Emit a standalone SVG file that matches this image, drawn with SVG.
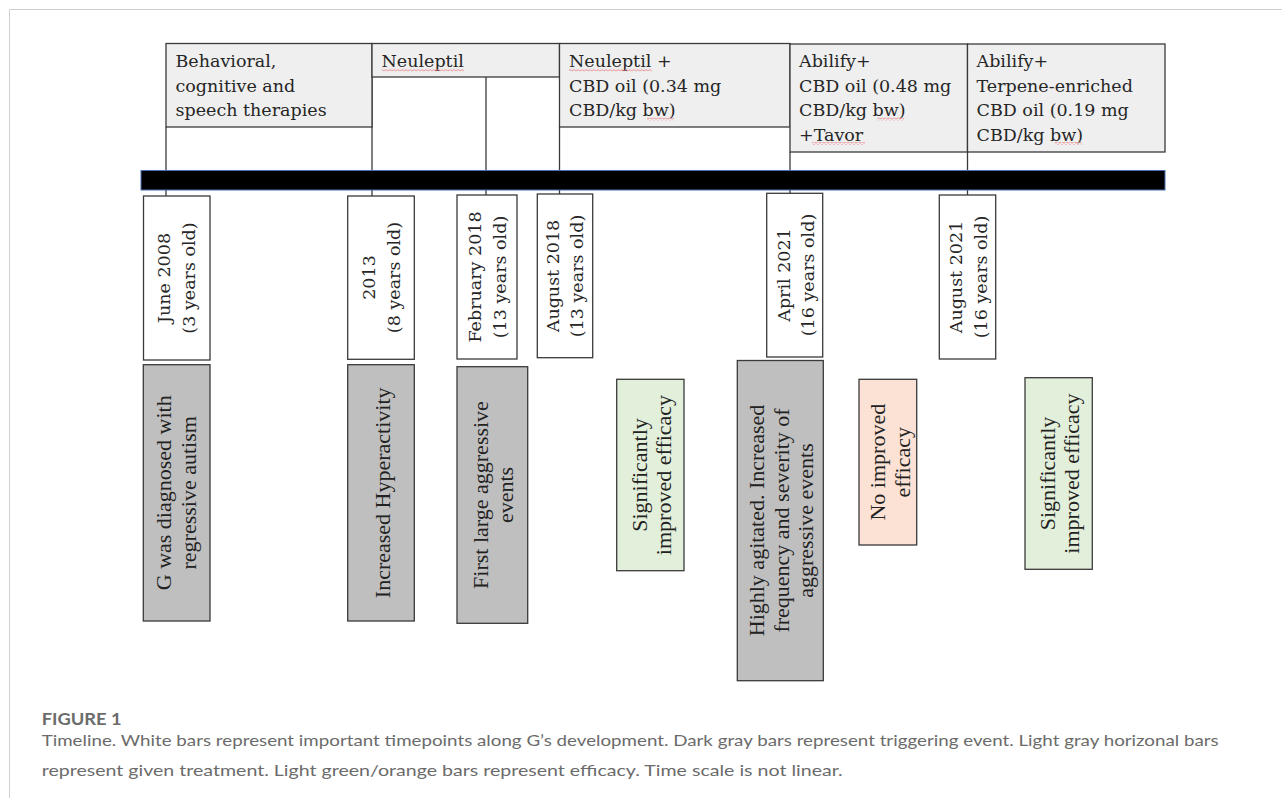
<svg xmlns="http://www.w3.org/2000/svg" width="1282" height="798" viewBox="0 0 1282 798">
<defs>
<style>
.hdr{fill:#efefef;stroke:#3a3a3a;stroke-width:1.3}
.date{fill:#ffffff;stroke:#3a3a3a;stroke-width:1.3}
.trig{fill:#bfbfbf;stroke:#3a3a3a;stroke-width:1.3}
.good{fill:#e2efda;stroke:#3a3a3a;stroke-width:1.3}
.bad{fill:#fbe2d5;stroke:#3a3a3a;stroke-width:1.3}
.ht{font-family:"DejaVu Serif","Liberation Serif",serif;font-size:17.5px;fill:#262626}
.dt{font-family:"DejaVu Serif","Liberation Serif",serif;font-size:17.5px;fill:#262626;text-anchor:middle}
.et{font-family:"Liberation Serif","DejaVu Serif",serif;font-size:22px;fill:#222;text-anchor:middle}
.conn line{stroke:#3a3a3a;stroke-width:1.3}
.cap{font-family:Lato,"Open Sans",sans-serif;fill:#6b6b6b}
</style>
<pattern id="wave" width="4" height="3" patternUnits="userSpaceOnUse">
<path d="M0,2.2 L2,0.6 L4,2.2" fill="none" stroke="#e8868a" stroke-width="0.9"/>
</pattern>
</defs>
<rect width="1282" height="798" fill="#ffffff"/>
<path d="M9.5,798 V9.5 H1282" fill="none" stroke="#cfcfcf" stroke-width="1"/>

<g id="connectors" class="conn">
<line x1="166" y1="127" x2="166" y2="196"/>
<line x1="372" y1="77" x2="372" y2="196"/>
<line x1="486" y1="77" x2="486" y2="195"/>
<line x1="559.5" y1="127" x2="559.5" y2="194"/>
<line x1="790" y1="152" x2="790" y2="193"/>
<line x1="967.5" y1="152" x2="967.5" y2="195"/>
</g>

<g id="timeline">
<rect x="141" y="170.5" width="1024" height="19.5" fill="#000000" stroke="#4a6fb5" stroke-width="1"/>
</g>

<g id="tx-behavioral">
<rect class="hdr" x="166" y="43.5" width="206" height="83.5"/>
<text class="ht" x="175.5" y="67">Behavioral,</text>
<text class="ht" x="175.5" y="91.5">cognitive and</text>
<text class="ht" x="175.5" y="116">speech therapies</text>
</g>
<g id="tx-neuleptil">
<rect class="hdr" x="372" y="43.5" width="187.5" height="33.5"/>
<text class="ht" x="381.5" y="67">Neuleptil</text>
<rect x="382" y="68.5" width="82" height="3" fill="url(#wave)"/>
</g>
<g id="tx-neuleptil-cbd">
<rect class="hdr" x="559.5" y="43.5" width="230.5" height="83.5"/>
<text class="ht" x="569" y="67">Neuleptil +</text>
<text class="ht" x="569" y="91.5">CBD oil (0.34 mg</text>
<text class="ht" x="569" y="116">CBD/kg bw)</text>
<rect x="569" y="68.5" width="83" height="3" fill="url(#wave)"/>
<rect x="647" y="117.5" width="27" height="3" fill="url(#wave)"/>
</g>
<g id="tx-abilify-cbd">
<rect class="hdr" x="790" y="44" width="177.5" height="108"/>
<text class="ht" x="799" y="67">Abilify+</text>
<text class="ht" x="799" y="91.5">CBD oil (0.48 mg</text>
<text class="ht" x="799" y="116">CBD/kg bw)</text>
<text class="ht" x="799" y="140.5">+Tavor</text>
<rect x="877" y="117.5" width="27" height="3" fill="url(#wave)"/>
<rect x="812" y="142" width="53" height="3" fill="url(#wave)"/>
</g>
<g id="tx-abilify-terpene">
<rect class="hdr" x="967.5" y="44" width="197.5" height="108"/>
<text class="ht" x="976.5" y="67">Abilify+</text>
<text class="ht" x="976.5" y="91.5">Terpene-enriched</text>
<text class="ht" x="976.5" y="116">CBD oil (0.19 mg</text>
<text class="ht" x="976.5" y="140.5">CBD/kg bw)</text>
<rect x="1055" y="142" width="27" height="3" fill="url(#wave)"/>
</g>

<g id="d-2008">
<rect class="date" x="143.5" y="196" width="66.5" height="164"/>
<text class="dt" transform="translate(170,278) rotate(-90)">June 2008</text>
<text class="dt" transform="translate(194.5,278) rotate(-90)">(3 years old)</text>
</g>
<g id="d-2013">
<rect class="date" x="347.7" y="196" width="66.6" height="163.3"/>
<text class="dt" transform="translate(375,277.5) rotate(-90)">2013</text>
<text class="dt" transform="translate(399.5,277.5) rotate(-90)">(8 years old)</text>
</g>
<g id="d-feb2018">
<rect class="date" x="457" y="195" width="60" height="164"/>
<text class="dt" transform="translate(481,277) rotate(-90)">February 2018</text>
<text class="dt" transform="translate(505.5,277) rotate(-90)">(13 years old)</text>
</g>
<g id="d-aug2018">
<rect class="date" x="537.3" y="194" width="55.4" height="163.7"/>
<text class="dt" transform="translate(558.5,276) rotate(-90)">August 2018</text>
<text class="dt" transform="translate(583,276) rotate(-90)">(13 years old)</text>
</g>
<g id="d-apr2021">
<rect class="date" x="766.7" y="193.3" width="56" height="163.7"/>
<text class="dt" transform="translate(789.5,275) rotate(-90)">April 2021</text>
<text class="dt" transform="translate(814,275) rotate(-90)">(16 years old)</text>
</g>
<g id="d-aug2021">
<rect class="date" x="939.3" y="195" width="56.4" height="164"/>
<text class="dt" transform="translate(962,277) rotate(-90)">August 2021</text>
<text class="dt" transform="translate(986.5,277) rotate(-90)">(16 years old)</text>
</g>

<g id="e-diagnosed">
<rect class="trig" x="143.3" y="364.7" width="66.7" height="256.3"/>
<text class="et" transform="translate(171,492.8) rotate(-90)">G was diagnosed with</text>
<text class="et" transform="translate(196,492.8) rotate(-90)">regressive autism</text>
</g>
<g id="e-hyper">
<rect class="trig" x="347.7" y="364.7" width="66.6" height="256.3"/>
<text class="et" transform="translate(389.5,492.8) rotate(-90)">Increased Hyperactivity</text>
</g>
<g id="e-aggressive">
<rect class="trig" x="457" y="366.7" width="70.7" height="256.6"/>
<text class="et" transform="translate(488,495) rotate(-90)">First large aggressive</text>
<text class="et" transform="translate(513,495) rotate(-90)">events</text>
</g>
<g id="e-efficacy1">
<rect class="good" x="616.7" y="379.3" width="67.3" height="191.4"/>
<text class="et" transform="translate(646.5,475) rotate(-90)">Significantly</text>
<text class="et" transform="translate(670.5,475) rotate(-90)">improved efficacy</text>
</g>
<g id="e-agitated">
<rect class="trig" x="737.3" y="360.5" width="86" height="320.2"/>
<text class="et" transform="translate(764,520.5) rotate(-90)">Highly agitated. Increased</text>
<text class="et" transform="translate(788.5,520.5) rotate(-90)">frequency and severity of</text>
<text class="et" transform="translate(813,520.5) rotate(-90)">aggressive events</text>
</g>
<g id="e-noefficacy">
<rect class="bad" x="859" y="379.3" width="57.7" height="165.7"/>
<text class="et" transform="translate(884.5,462.2) rotate(-90)">No improved</text>
<text class="et" transform="translate(909.5,462.2) rotate(-90)">efficacy</text>
</g>
<g id="e-efficacy2">
<rect class="good" x="1025" y="377.7" width="67.3" height="191.6"/>
<text class="et" transform="translate(1054.5,473.5) rotate(-90)">Significantly</text>
<text class="et" transform="translate(1079,473.5) rotate(-90)">improved efficacy</text>
</g>

<g id="caption">
<text class="cap" x="41.7" y="724.5" font-size="17" font-weight="bold" fill="#5a5a5a" textLength="80" lengthAdjust="spacingAndGlyphs">FIGURE 1</text>
<text class="cap" x="41.7" y="746" font-size="16" textLength="1177" lengthAdjust="spacingAndGlyphs">Timeline. White bars represent important timepoints along G’s development. Dark gray bars represent triggering event. Light gray horizonal bars</text>
<text class="cap" x="41.7" y="776" font-size="16" textLength="801" lengthAdjust="spacingAndGlyphs">represent given treatment. Light green/orange bars represent efficacy. Time scale is not linear.</text>
</g>
</svg>
